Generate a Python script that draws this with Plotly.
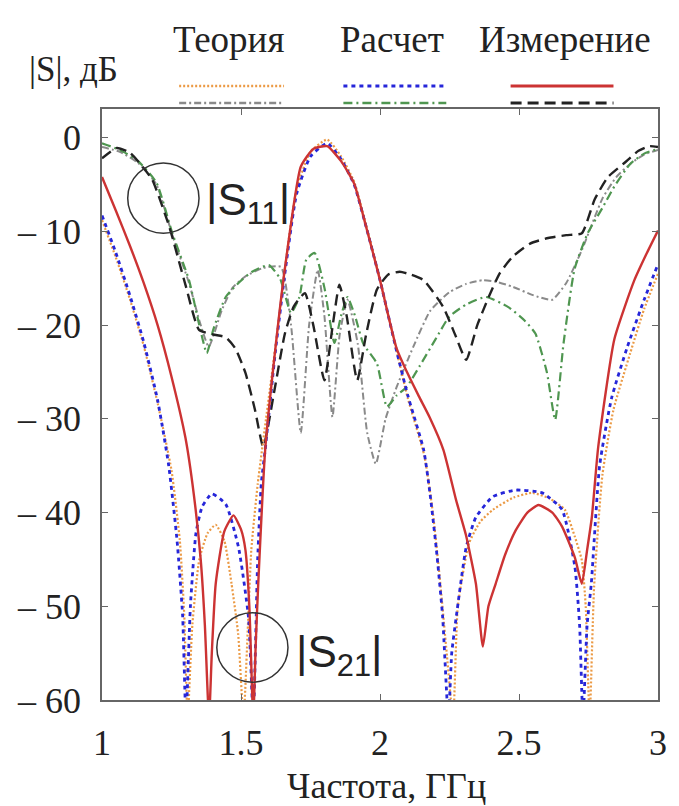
import plotly.graph_objects as go

# ---------------- data (frequency, GHz / level, dB) ----------------
s21_meas_x = [1.0, 1.05, 1.10, 1.15, 1.20, 1.25, 1.30, 1.33, 1.355, 1.37, 1.385,
              1.395, 1.409, 1.44, 1.473, 1.50, 1.516, 1.53, 1.544, 1.553, 1.562, 1.587, 1.623,
              1.66, 1.715, 1.76, 1.81, 1.86, 1.907, 1.95, 2.0, 2.03, 2.06, 2.10, 2.14, 2.178,
              2.228, 2.274, 2.31, 2.345, 2.37, 2.39, 2.416, 2.45, 2.488, 2.53, 2.57, 2.62, 2.655,
              2.701, 2.726, 2.745, 2.762, 2.785, 2.843, 2.915, 2.96, 3.0]
s21_meas_y = [-4.2, -7.8, -11.5, -15.5, -20, -25.5, -32, -38, -45, -52, -62,
              -55, -47.6, -42, -40.3, -41.8, -44, -50, -62, -54, -47.6, -33.3, -22.7,
              -13.5, -3.1, -1.2, -0.9, -2.5, -4.9, -9.5, -15.2, -19.0, -22.5, -25.2, -27.6, -29.8,
              -33.3, -38.7, -42.5, -47.6, -54.3, -50, -47.6, -44.5, -41.9, -40, -39.2, -40, -41.5,
              -44.8, -47.6, -44, -40.5, -33, -21.5, -15.2, -12.3, -9.9]

s21_calc_x = [1.0, 1.05, 1.10, 1.15, 1.20, 1.24, 1.27, 1.29, 1.302, 1.318, 1.338, 1.36, 1.395,
              1.445, 1.491, 1.527, 1.544, 1.56, 1.573, 1.587, 1.623, 1.66, 1.70, 1.75, 1.81, 1.86,
              1.907, 1.95, 2.0, 2.03, 2.06, 2.10, 2.157, 2.18, 2.203, 2.225, 2.246, 2.258, 2.274, 2.31,
              2.345, 2.406, 2.488, 2.584, 2.655, 2.701, 2.718, 2.73, 2.745, 2.76, 2.79, 2.833,
              2.89, 2.95, 3.0]
s21_calc_y = [-8.3, -12.3, -16.8, -21.8, -28, -35, -43, -51, -62, -50, -42.2, -39.4, -38.0,
              -39.1, -43.7, -51.2, -62, -45, -36.9, -33.3, -23, -14, -6, -2, -0.6, -2.3,
              -5, -9.5, -15.2, -19.0, -22.8, -27.5, -33.3, -38, -44, -51, -62, -55, -51.2, -43.7,
              -40.5, -38.3, -37.6, -37.9, -39.7, -45.8, -52, -62, -52, -47.6, -35, -27.8,
              -22.3, -17.3, -13.5]

s21_theo_x = [1.0, 1.05, 1.10, 1.15, 1.20, 1.25, 1.28, 1.296, 1.308, 1.325, 1.35, 1.38, 1.409,
              1.44, 1.466, 1.49, 1.509, 1.525, 1.537, 1.56, 1.59, 1.623, 1.66, 1.70, 1.75, 1.81,
              1.86, 1.907, 1.95, 2.0, 2.03, 2.06, 2.10, 2.16, 2.19, 2.215, 2.24, 2.263, 2.28, 2.32,
              2.36, 2.406, 2.48, 2.548, 2.61, 2.665, 2.70, 2.726, 2.74, 2.754, 2.77, 2.80, 2.84,
              2.9, 2.95, 3.0]
s21_theo_y = [-8.8, -12.8, -17.2, -22.2, -28.3, -35.5, -43, -51, -62, -52, -45, -42.2, -41.3,
              -43, -47.6, -53, -62, -52, -44, -37, -30, -22.5, -13.5, -5.5, -1.5, -0.2,
              -2, -4.7, -9.3, -15, -19.0, -22.8, -27.8, -34, -40, -47, -55, -62, -50, -43.3,
              -41, -39.7, -38.4, -37.9, -38.5, -39.7, -42.5, -45.1, -50, -62, -48, -36, -29,
              -23, -18.3, -14.5]

s11_meas_x = [1.0, 1.053, 1.10, 1.146, 1.181, 1.242, 1.302, 1.349, 1.40, 1.445, 1.48, 1.516, 1.55,
              1.58, 1.62, 1.658, 1.69, 1.73, 1.76, 1.80, 1.83, 1.854, 1.88, 1.918, 1.95, 1.989,
              2.03, 2.071, 2.11, 2.157, 2.228, 2.27, 2.31, 2.35, 2.391, 2.43, 2.477, 2.54, 2.605,
              2.67, 2.726, 2.772, 2.82, 2.879, 2.93, 2.97, 3.0]
s11_meas_y = [-2.2, -1.1, -1.6, -3.1, -4.5, -9.5, -15.9, -20.5, -21.0, -21.3, -22.5, -25.1, -29,
              -33.0, -27, -20.9, -18, -16.6, -20, -25.9, -20, -15.7, -19, -25.9, -21, -16.2,
              -14.6, -14.3, -14.6, -15.2, -18.1, -21, -23.7, -20, -17.0, -14.5, -12.7, -11.3, -10.7,
              -10.4, -10.2, -6.6, -4.2, -2.7, -1.4, -0.9, -1.0]

s11_calc_x = [1.0, 1.064, 1.13, 1.196, 1.253, 1.313, 1.35, 1.377, 1.40, 1.445, 1.491, 1.54, 1.6,
              1.64, 1.68, 1.71, 1.735, 1.765, 1.80, 1.836, 1.86, 1.883, 1.91, 1.94, 1.989, 2.025,
              2.06, 2.096, 2.142, 2.2, 2.249, 2.31, 2.381, 2.463, 2.52, 2.559, 2.60, 2.63, 2.66,
              2.70, 2.747, 2.8, 2.843, 2.9, 2.95, 3.0]
s11_calc_y = [-0.6, -1.3, -2.5, -4.8, -10.2, -15.2, -20, -23.0, -20.5, -17.0, -15.5, -14.3, -13.6,
              -15, -18.7, -17, -13, -12.3, -16, -21.9, -19, -17, -19, -22, -24.1, -28.7,
              -27.5, -26.6, -24.4, -21.5, -19.1, -17.8, -17.0, -18.1, -19.5, -20.9, -25, -30.1, -22,
              -14, -10.2, -7.5, -5.2, -2.8, -1.7, -1.2]

s11_theo_x = [1.0, 1.064, 1.13, 1.196, 1.253, 1.313, 1.35, 1.384, 1.431, 1.47, 1.516, 1.58, 1.644,
              1.68, 1.715, 1.745, 1.776, 1.80, 1.829, 1.855, 1.883, 1.92, 1.954, 1.985, 2.02, 2.06,
              2.12, 2.18, 2.249, 2.31, 2.37, 2.42, 2.477, 2.55, 2.619, 2.67, 2.726, 2.8, 2.85,
              2.9, 2.95, 3.0]
s11_theo_y = [-1.0, -1.5, -2.7, -5.0, -10.4, -15.5, -19.5, -22.3, -18.4, -16, -14.8, -13.9, -13.8,
              -20, -31.5, -20, -14.1, -19, -29.8, -21, -17.3, -22, -31.5, -34.8, -30, -26.6,
              -22.3, -18.5, -16.5, -15.6, -15.2, -15.4, -15.9, -16.8, -17.3, -15.5, -12.0, -6.5, -4.2,
              -2.8, -1.8, -1.3]

x_tick_vals = [1, 1.5, 2, 2.5, 3]
x_tick_text = ["1", "1.5", "2", "2.5", "3"]
y_tick_vals = [0, -10, -20, -30, -40, -50, -60]
y_tick_text = ["0", "\u2013 10", "\u2013 20", "\u2013 30", "\u2013 40", "\u2013 50", "\u2013 60"]

legend_groups = ["Теория", "Расчет", "Измерение"]

# ---------------- styles ----------------
C_RED = "#cc3333"
C_BLUE = "#2626d9"
C_ORANGE = "#eb9a45"
C_GRAY = "#8a8a8a"
C_GREEN = "#4f9650"
C_BLACK = "#222222"

DASH_BLUE = "4px,4px"
DASH_ORANGE = "2px,2px"
DASH_GRAY = "7px,3px,2px,3px"
DASH_GREEN = "9px,4px,2px,4px"
DASH_BLACK = "11px,6px"

fig = go.Figure()

def add(x, y, color, dash, width):
    fig.add_trace(go.Scatter(x=x, y=y, mode="lines", showlegend=False,
                             line=dict(color=color, dash=dash, width=width, shape="spline",
                                       smoothing=0.5)))

add(s11_theo_x, s11_theo_y, C_GRAY, DASH_GRAY, 2)
add(s11_calc_x, s11_calc_y, C_GREEN, DASH_GREEN, 2.2)
add(s11_meas_x, s11_meas_y, C_BLACK, DASH_BLACK, 2.4)
add(s21_theo_x, s21_theo_y, C_ORANGE, DASH_ORANGE, 2.2)
add(s21_calc_x, s21_calc_y, C_BLUE, DASH_BLUE, 2.8)
add(s21_meas_x, s21_meas_y, C_RED, "solid", 2.4)

SERIF = "Liberation Serif"
SANS = "Liberation Sans"

axis_common = dict(showgrid=False, zeroline=False, showline=True, linecolor="#666666",
                   linewidth=1.5, mirror="ticks", ticks="inside", ticklen=6,
                   tickcolor="#666666", tickwidth=1.2,
                   tickfont=dict(family=SERIF, size=36, color="#222222"))

fig.update_layout(
    width=679, height=806,
    margin=dict(l=102, r=15, t=109, b=106),
    paper_bgcolor="white", plot_bgcolor="white",
    xaxis=dict(range=[1, 3], tickvals=x_tick_vals, ticktext=x_tick_text,
               ticklabelstandoff=10, **axis_common),
    yaxis=dict(range=[-60, 3.06], tickvals=y_tick_vals, ticktext=y_tick_text,
               ticklabelstandoff=12, **axis_common),
)

def px2paper(px, py):
    return (px - 102) / 562.0, (700 - py) / 591.0

ann = []
xp, yp = px2paper(390, 786)
ann.append(dict(text="Частота, ГГц", x=xp, y=yp, xref="paper", yref="paper",
                showarrow=False, xanchor="center", yanchor="middle",
                font=dict(family=SERIF, size=36, color="#222222")))
xp, yp = px2paper(73, 70)
ann.append(dict(text="|S|, дБ", x=xp, y=yp, xref="paper", yref="paper",
                showarrow=False, xanchor="center", yanchor="middle",
                font=dict(family=SERIF, size=35, color="#222222")))
for name, cx in zip(legend_groups, [230, 395, 570]):
    xp, yp = px2paper(cx, 40)
    ann.append(dict(text=name, x=xp, y=yp, xref="paper", yref="paper",
                    showarrow=False, xanchor="center", yanchor="middle",
                    font=dict(family=SERIF, size=37, color="#222222")))

xp, yp = px2paper(205, 203)
ann.append(dict(text="|S<sub>11</sub>|", x=xp, y=yp, xref="paper", yref="paper",
                showarrow=False, xanchor="left", yanchor="middle",
                font=dict(family=SANS, size=44, color="#222222")))
xp, yp = px2paper(296, 655)
ann.append(dict(text="|S<sub>21</sub>|", x=xp, y=yp, xref="paper", yref="paper",
                showarrow=False, xanchor="left", yanchor="middle",
                font=dict(family=SANS, size=44, color="#222222")))
fig.update_layout(annotations=ann)

shapes = [
    dict(type="circle", xref="x", yref="y", x0=1.0925, x1=1.349, y0=-10.2, y1=-2.7,
         line=dict(color="#333333", width=1.5)),
    dict(type="circle", xref="x", yref="y", x0=1.413, x1=1.669, y0=-58.1, y1=-50.7,
         line=dict(color="#333333", width=1.5)),
]

rows = [
    [(180, 286, C_ORANGE, DASH_ORANGE, 2.5), (180, 286, C_GRAY, DASH_GRAY, 2.5)],
    [(346, 450, C_BLUE, DASH_BLUE, 3), (346, 450, C_GREEN, DASH_GREEN, 2.5)],
    [(515, 619, C_RED, "solid", 3), (515, 619, C_BLACK, DASH_BLACK, 3)],
]
for grp in rows:
    for i, (x0, x1, col, dash, w) in enumerate(grp):
        py = 86 if i == 0 else 103
        a0, b0 = px2paper(x0, py)
        a1, _ = px2paper(x1, py)
        shapes.append(dict(type="line", xref="paper", yref="paper", x0=a0, x1=a1, y0=b0, y1=b0,
                           line=dict(color=col, dash=dash, width=w)))
fig.update_layout(shapes=shapes)

fig.write_html("out.html")
